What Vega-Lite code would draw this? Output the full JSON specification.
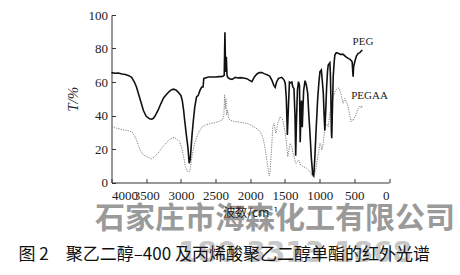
{
  "$schema": "https://vega.github.io/schema/vega-lite/v6.json",
  "autosize": {"type": "none"},
  "padding": {"left": 111.5, "top": 15, "right": 71, "bottom": 92.5},
  "width": 277.5,
  "height": 167.5,
  "background": "white",
  "config": {
    "view": {"stroke": null},
    "axis": {"grid": false, "domainColor": "#333", "tickColor": "#333", "labelColor": "#222", "labelFont": "Liberation Serif", "labelFontSize": 13, "titleFontWeight": "normal", "titleColor": "#222", "labelOverlap": false}
  },
  "title": {
    "text": "图 2　聚乙二醇–400 及丙烯酸聚乙二醇单酯的红外光谱",
    "orient": "bottom",
    "anchor": "start",
    "frame": "group",
    "dx": -93,
    "offset": -21,
    "font": "Noto Sans CJK SC",
    "fontSize": 17,
    "fontWeight": "normal",
    "color": "#111"
  },
  "datasets": {
    "peg": [
      {"wn": 4000, "T": 65.6}, {"wn": 3950, "T": 65.2}, {"wn": 3900, "T": 65.4}, {"wn": 3850, "T": 64.8}, {"wn": 3800, "T": 64.5}, {"wn": 3750, "T": 63.8}, {"wn": 3710, "T": 62.8}, {"wn": 3670, "T": 60}, {"wn": 3640, "T": 57}, {"wn": 3590, "T": 50}, {"wn": 3540, "T": 43}, {"wn": 3500, "T": 39.5}, {"wn": 3450, "T": 38}, {"wn": 3425, "T": 37.8}, {"wn": 3400, "T": 38.2}, {"wn": 3375, "T": 39.5}, {"wn": 3330, "T": 43}, {"wn": 3300, "T": 46}, {"wn": 3250, "T": 50.5}, {"wn": 3200, "T": 53}, {"wn": 3150, "T": 55}, {"wn": 3110, "T": 55.7}, {"wn": 3070, "T": 55.2}, {"wn": 3040, "T": 54}, {"wn": 3000, "T": 52}, {"wn": 2980, "T": 49}, {"wn": 2960, "T": 43}, {"wn": 2945, "T": 37}, {"wn": 2920, "T": 28}, {"wn": 2900, "T": 21.5}, {"wn": 2880, "T": 11.5}, {"wn": 2865, "T": 14}, {"wn": 2855, "T": 19.5}, {"wn": 2840, "T": 28}, {"wn": 2820, "T": 37}, {"wn": 2800, "T": 45}, {"wn": 2775, "T": 51}, {"wn": 2750, "T": 52}, {"wn": 2725, "T": 55}, {"wn": 2700, "T": 57}, {"wn": 2680, "T": 57}, {"wn": 2670, "T": 62}, {"wn": 2640, "T": 62.5}, {"wn": 2600, "T": 63}, {"wn": 2550, "T": 63}, {"wn": 2500, "T": 63}, {"wn": 2450, "T": 63.2}, {"wn": 2400, "T": 63.3}, {"wn": 2375, "T": 64}, {"wn": 2365, "T": 89.7}, {"wn": 2355, "T": 66}, {"wn": 2345, "T": 75}, {"wn": 2335, "T": 64}, {"wn": 2325, "T": 62.8}, {"wn": 2300, "T": 62}, {"wn": 2263, "T": 61.6}, {"wn": 2215, "T": 62.8}, {"wn": 2180, "T": 62.4}, {"wn": 2143, "T": 62.6}, {"wn": 2100, "T": 62.4}, {"wn": 2048, "T": 62}, {"wn": 2010, "T": 61}, {"wn": 1976, "T": 60.2}, {"wn": 1940, "T": 63}, {"wn": 1904, "T": 64.8}, {"wn": 1870, "T": 65.6}, {"wn": 1833, "T": 65.6}, {"wn": 1800, "T": 65}, {"wn": 1761, "T": 64.4}, {"wn": 1720, "T": 63.5}, {"wn": 1689, "T": 61.2}, {"wn": 1660, "T": 58}, {"wn": 1641, "T": 56.8}, {"wn": 1620, "T": 60}, {"wn": 1593, "T": 62.2}, {"wn": 1545, "T": 62.8}, {"wn": 1510, "T": 61}, {"wn": 1495, "T": 59}, {"wn": 1480, "T": 50}, {"wn": 1465, "T": 28.4}, {"wn": 1450, "T": 45}, {"wn": 1435, "T": 60}, {"wn": 1420, "T": 59.5}, {"wn": 1400, "T": 60}, {"wn": 1388, "T": 57.2}, {"wn": 1370, "T": 56}, {"wn": 1355, "T": 40}, {"wn": 1345, "T": 16}, {"wn": 1335, "T": 35}, {"wn": 1320, "T": 55}, {"wn": 1305, "T": 60.2}, {"wn": 1290, "T": 58}, {"wn": 1280, "T": 24}, {"wn": 1270, "T": 40}, {"wn": 1262, "T": 49}, {"wn": 1250, "T": 33}, {"wn": 1240, "T": 45}, {"wn": 1230, "T": 55}, {"wn": 1210, "T": 60.8}, {"wn": 1190, "T": 58}, {"wn": 1172, "T": 53.2}, {"wn": 1155, "T": 40}, {"wn": 1139, "T": 29.4}, {"wn": 1120, "T": 15}, {"wn": 1100, "T": 5}, {"wn": 1085, "T": 4}, {"wn": 1070, "T": 14}, {"wn": 1053, "T": 29.4}, {"wn": 1029, "T": 49.3}, {"wn": 1010, "T": 60}, {"wn": 995, "T": 66.2}, {"wn": 975, "T": 67.2}, {"wn": 960, "T": 60}, {"wn": 947, "T": 53.2}, {"wn": 935, "T": 40}, {"wn": 925, "T": 31}, {"wn": 915, "T": 40}, {"wn": 899, "T": 57.2}, {"wn": 885, "T": 67}, {"wn": 876, "T": 70.1}, {"wn": 852, "T": 71.5}, {"wn": 845, "T": 65}, {"wn": 837, "T": 49.3}, {"wn": 830, "T": 30}, {"wn": 825, "T": 26.4}, {"wn": 815, "T": 45}, {"wn": 804, "T": 63.2}, {"wn": 790, "T": 72}, {"wn": 780, "T": 76.1}, {"wn": 760, "T": 77.5}, {"wn": 732, "T": 77.1}, {"wn": 700, "T": 76.5}, {"wn": 660, "T": 76.5}, {"wn": 620, "T": 75}, {"wn": 588, "T": 74.1}, {"wn": 560, "T": 73.5}, {"wn": 531, "T": 72.1}, {"wn": 522, "T": 66}, {"wn": 517, "T": 63.2}, {"wn": 510, "T": 69}, {"wn": 493, "T": 72.1}, {"wn": 470, "T": 75.5}, {"wn": 445, "T": 77.1}, {"wn": 420, "T": 77.5}, {"wn": 400, "T": 78.5}, {"wn": 383, "T": 79.1}
    ],
    "pegaa": [
      {"wn": 4000, "T": 33.4}, {"wn": 3960, "T": 33}, {"wn": 3930, "T": 32.4}, {"wn": 3880, "T": 32}, {"wn": 3830, "T": 31.4}, {"wn": 3760, "T": 31}, {"wn": 3700, "T": 30}, {"wn": 3670, "T": 28}, {"wn": 3640, "T": 25.4}, {"wn": 3610, "T": 22}, {"wn": 3590, "T": 19.5}, {"wn": 3540, "T": 16.5}, {"wn": 3495, "T": 15.5}, {"wn": 3450, "T": 14.5}, {"wn": 3425, "T": 14.1}, {"wn": 3390, "T": 15}, {"wn": 3355, "T": 16.5}, {"wn": 3300, "T": 19}, {"wn": 3260, "T": 21.5}, {"wn": 3200, "T": 24}, {"wn": 3160, "T": 25.8}, {"wn": 3120, "T": 26.7}, {"wn": 3090, "T": 26.8}, {"wn": 3050, "T": 25.5}, {"wn": 3020, "T": 24.4}, {"wn": 2990, "T": 21}, {"wn": 2970, "T": 17.5}, {"wn": 2950, "T": 13}, {"wn": 2935, "T": 9.5}, {"wn": 2915, "T": 7.5}, {"wn": 2900, "T": 6.6}, {"wn": 2885, "T": 6.2}, {"wn": 2870, "T": 7.2}, {"wn": 2855, "T": 11}, {"wn": 2840, "T": 15.5}, {"wn": 2820, "T": 20}, {"wn": 2800, "T": 23.5}, {"wn": 2760, "T": 28.4}, {"wn": 2720, "T": 31.5}, {"wn": 2690, "T": 33.4}, {"wn": 2640, "T": 34.5}, {"wn": 2590, "T": 35}, {"wn": 2520, "T": 35.7}, {"wn": 2450, "T": 36.4}, {"wn": 2400, "T": 37.4}, {"wn": 2380, "T": 40}, {"wn": 2370, "T": 52.3}, {"wn": 2360, "T": 44}, {"wn": 2350, "T": 50}, {"wn": 2340, "T": 40.4}, {"wn": 2325, "T": 43.3}, {"wn": 2310, "T": 38}, {"wn": 2297, "T": 37.3}, {"wn": 2250, "T": 36.6}, {"wn": 2191, "T": 36.3}, {"wn": 2120, "T": 35.8}, {"wn": 2048, "T": 35.3}, {"wn": 2000, "T": 34.5}, {"wn": 1952, "T": 33.3}, {"wn": 1900, "T": 32}, {"wn": 1856, "T": 30.3}, {"wn": 1830, "T": 28}, {"wn": 1809, "T": 25.4}, {"wn": 1785, "T": 20}, {"wn": 1761, "T": 13.4}, {"wn": 1740, "T": 7}, {"wn": 1727, "T": 3.9}, {"wn": 1715, "T": 6}, {"wn": 1703, "T": 13.4}, {"wn": 1690, "T": 22}, {"wn": 1675, "T": 33.3}, {"wn": 1656, "T": 35.3}, {"wn": 1645, "T": 32}, {"wn": 1632, "T": 29.4}, {"wn": 1620, "T": 31}, {"wn": 1608, "T": 34.9}, {"wn": 1590, "T": 37}, {"wn": 1569, "T": 39.3}, {"wn": 1550, "T": 38.5}, {"wn": 1531, "T": 37.3}, {"wn": 1515, "T": 34}, {"wn": 1498, "T": 30.3}, {"wn": 1480, "T": 24}, {"wn": 1459, "T": 15.4}, {"wn": 1440, "T": 20}, {"wn": 1426, "T": 23.4}, {"wn": 1415, "T": 22.5}, {"wn": 1402, "T": 21.4}, {"wn": 1385, "T": 18}, {"wn": 1368, "T": 15.4}, {"wn": 1355, "T": 13}, {"wn": 1340, "T": 11.4}, {"wn": 1320, "T": 12.5}, {"wn": 1301, "T": 13.4}, {"wn": 1285, "T": 11.5}, {"wn": 1273, "T": 10.4}, {"wn": 1250, "T": 9.8}, {"wn": 1234, "T": 9.5}, {"wn": 1210, "T": 9}, {"wn": 1187, "T": 8.5}, {"wn": 1160, "T": 7.5}, {"wn": 1139, "T": 6.5}, {"wn": 1120, "T": 5}, {"wn": 1100, "T": 3.5}, {"wn": 1085, "T": 4}, {"wn": 1067, "T": 5.5}, {"wn": 1050, "T": 9}, {"wn": 1034, "T": 13.4}, {"wn": 1015, "T": 18}, {"wn": 995, "T": 23.4}, {"wn": 980, "T": 22}, {"wn": 967, "T": 19.4}, {"wn": 950, "T": 23}, {"wn": 938, "T": 27.4}, {"wn": 925, "T": 31}, {"wn": 909, "T": 34.3}, {"wn": 895, "T": 34.8}, {"wn": 876, "T": 33.3}, {"wn": 865, "T": 37}, {"wn": 852, "T": 41.3}, {"wn": 830, "T": 46}, {"wn": 804, "T": 51.2}, {"wn": 780, "T": 54}, {"wn": 756, "T": 55.6}, {"wn": 738, "T": 56.4}, {"wn": 718, "T": 56.2}, {"wn": 700, "T": 54}, {"wn": 684, "T": 51.2}, {"wn": 670, "T": 48}, {"wn": 660, "T": 47.3}, {"wn": 648, "T": 49}, {"wn": 636, "T": 50.2}, {"wn": 620, "T": 48.5}, {"wn": 600, "T": 46.5}, {"wn": 588, "T": 45.3}, {"wn": 570, "T": 41}, {"wn": 550, "T": 36.3}, {"wn": 535, "T": 37.5}, {"wn": 517, "T": 37}, {"wn": 500, "T": 38.5}, {"wn": 478, "T": 40.3}, {"wn": 455, "T": 43}, {"wn": 431, "T": 45.3}, {"wn": 410, "T": 45.5}, {"wn": 400, "T": 44.5}, {"wn": 383, "T": 46.3}
    ],
    "labels": [
      {"label": "PEG", "wn": 375, "T": 84},
      {"label": "PEGAA", "wn": 281, "T": 51.6}
    ],
    "marks": [
      {"t": "石家庄市海森化工有限公司", "wn": 1643, "T": -21.5}
    ],
    "phone": [
      {"t": "180 3313 1868", "wn": 1355, "T": -42.7}
    ]
  },
  "encoding": {
    "x": {
      "field": "wn", "type": "quantitative",
      "scale": {"domain": [0, 4000], "reverse": true, "nice": false, "zero": false},
      "axis": {"values": [0, 500, 1000, 1500, 2000, 2500, 3000, 3500, 4000], "format": "d", "tickSize": -4, "labelPadding": 11, "labelFont": "Liberation Serif", "labelFontSize": 13, "labelOverlap": false, "title": "波数/cm⁻¹", "titleFont": "Noto Sans CJK SC", "titleFontSize": 12, "titlePadding": 5, "zindex": 2}
    },
    "y": {
      "field": "T", "type": "quantitative",
      "scale": {"domain": [0, 100], "nice": false},
      "axis": {"values": [0, 20, 40, 60, 80, 100], "tickSize": -4, "labelPadding": 8, "labelFont": "Liberation Serif", "labelFontSize": 13, "title": "T/%", "titleFont": "Liberation Serif", "titleFontStyle": "italic", "titleFontSize": 15, "titlePadding": 8}
    }
  },
  "layer": [
    {
      "data": {"name": "marks"},
      "mark": {"type": "text", "font": "Noto Sans CJK SC", "fontWeight": "bold", "fontSize": 30, "color": "#9a9a9a", "baseline": "middle", "align": "center", "clip": false},
      "encoding": {"text": {"field": "t"}}
    },
    {
      "data": {"name": "phone"},
      "mark": {"type": "text", "font": "DejaVu Sans", "fontWeight": "bold", "fontSize": 28, "color": "#c8c8c8", "baseline": "middle", "align": "center", "clip": false},
      "encoding": {"text": {"field": "t"}}
    },
    {
      "data": {"name": "pegaa"},
      "mark": {"type": "line", "color": "#808080", "strokeWidth": 1, "strokeDash": [1.2, 1.2]}
    },
    {
      "data": {"name": "peg"},
      "mark": {"type": "line", "color": "#111111", "strokeWidth": 1.6}
    },
    {
      "data": {"name": "labels"},
      "mark": {"type": "text", "font": "Liberation Serif", "fontSize": 11, "color": "#222", "baseline": "middle", "align": "center"},
      "encoding": {"text": {"field": "label"}}
    }
  ]
}
